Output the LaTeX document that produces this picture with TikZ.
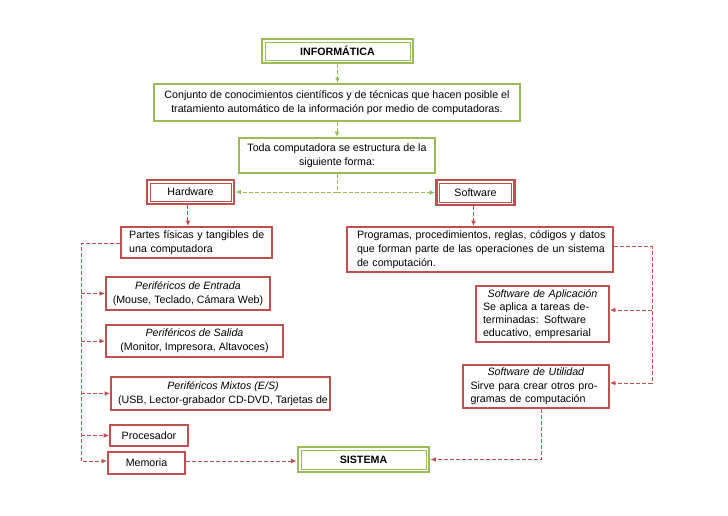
\documentclass[tikz,border=0pt]{standalone}
\usepackage{fontspec}
\setmainfont{Liberation Sans}
\usetikzlibrary{arrows.meta,calc}
\definecolor{gr}{HTML}{9BBB59}
\definecolor{rd}{HTML}{C0504D}
\newcommand{\jline}[1]{\makebox[\hsize][s]{#1}}
\begin{document}
\begin{tikzpicture}[x=0.75pt,y=-0.75pt,
  every node/.style={font=\fontsize{8}{10.5}\selectfont, inner sep=0pt},
  gbox/.style={draw=gr, line width=1.5pt, fill=white, align=center},
  rbox/.style={draw=rd, line width=1.5pt, fill=white, align=center},
  dblbox/.style={draw=#1, line width=2.2pt, fill=white, align=center,
    path picture={\draw[#1, line width=0.6pt]
      ([shift={(2.2pt,2.2pt)}]path picture bounding box.south west) rectangle
      ([shift={(-2.2pt,-2.2pt)}]path picture bounding box.north east);}},
  gcon/.style={draw=gr, line width=0.75pt, dash pattern=on 3pt off 1.5pt, -{Latex[length=4pt,width=3.6pt]}},
  rcon/.style={draw=rd, line width=0.75pt, dash pattern=on 3pt off 1.5pt, -{Latex[length=4pt,width=3.6pt]}}
]
\useasboundingbox (0,0) rectangle (728,515);

\node[dblbox=gr, minimum width=113.25pt, minimum height=18pt] (info) at (337.5,51) {\textbf{INFORMÁTICA}};
\node[gbox, minimum width=274.5pt, minimum height=27.75pt] (conj) at (337,102.5)
  {Conjunto de conocimientos científicos y de técnicas que hacen posible el\\tratamiento automático de la información por medio de computadoras.};
\node[gbox, minimum width=147pt, minimum height=26.25pt] (toda) at (337,155.5)
  {Toda computadora se estructura de la\\siguiente forma:};
\node[dblbox=rd, minimum width=65.25pt, minimum height=18pt] (hw) at (190.5,192) {Hardware};
\node[dblbox=rd, minimum width=58.5pt, minimum height=18.75pt] (sw) at (475.5,192.5) {Software};

\node[rbox, align=left, text width=107pt, inner xsep=3.1pt, minimum height=23.25pt] (partes) at (196.5,242.5)
  {\hspace*{3pt}Partes físicas y tangibles de\\\hspace*{3pt}una computadora};
\node[rbox, align=left, text width=184.5pt, inner xsep=7.5pt, minimum height=33.75pt] (prog) at (480,249.5)
  {\jline{Programas, procedimientos, reglas, códigos y datos}\\\jline{que forman parte de las operaciones de un sistema}\\de computación.};

\node[rbox, minimum width=123pt, minimum height=24.75pt] (ent) at (188,293.5)
  {\textit{Periféricos de Entrada}\\(Mouse, Teclado, Cámara Web)};
\node[rbox, minimum width=132.75pt, minimum height=24pt] (sal) at (194.5,341)
  {\textit{Periféricos de Salida}\\(Monitor, Impresora, Altavoces)};
\node[rbox, minimum width=164.25pt, minimum height=24.75pt] (mixbox) at (220.5,393.5) {};
\node[align=center] (mixtxt) at (223,393.5)
  {\textit{Periféricos Mixtos (E/S)}\\(USB, Lector-grabador CD-DVD, Tarjetas de};
\node[rbox, minimum width=58.5pt, minimum height=15.75pt] (proc) at (149,435.5) {Procesador};
\node[rbox, minimum width=57.75pt, minimum height=16.5pt] (mem) at (146.5,463) {Memoria};
\node[dblbox=gr, minimum width=98.25pt, minimum height=18.75pt] (sis) at (363.5,459.5) {\textbf{SISTEMA}};

\node[rbox, align=left, text width=89.25pt, inner xsep=5.25pt, minimum height=42pt,
      font=\fontsize{8}{9.9}\selectfont] (apl) at (542.5,314)
  {\makebox[\hsize][c]{\textit{Software de Aplicación}}\\\jline{Se aplica a tareas de-}\\\jline{terminadas: Software}\\educativo, empresarial};
\node[rbox, align=left, text width=98.25pt, inner xsep=5.6pt, minimum height=32.25pt,
      font=\fontsize{8}{10}\selectfont] (utl) at (536,386.5)
  {\makebox[\hsize][c]{\textit{Software de Utilidad}}\\\jline{Sirve para crear otros pro-}\\gramas de computación};

% anchor points
\coordinate (pw) at ([yshift=-1.1pt]partes.west);
\coordinate (mw) at ([yshift=1.5pt]mem.west);
\coordinate (me) at ([yshift=1.5pt]mem.east);
\coordinate (pe) at ([yshift=1.9pt]prog.east);
\coordinate (ae) at ([yshift=3pt]apl.east);
\coordinate (ue) at ([yshift=2.6pt]utl.east);
\coordinate (hs) at ([xshift=-1.9pt]hw.south);
\coordinate (ss) at ([xshift=-1.5pt]sw.south);
\coordinate (lb) at (81,0);
\coordinate (rb) at (652,0);
\coordinate (ub) at (541,0);

% green connectors
\draw[gcon] (info.south) -- (info.south |- conj.north);
\draw[gcon] (conj.south) -- (conj.south |- toda.north);
\draw[gcon] (toda.south) |- (hw.east);
\draw[gcon] (toda.south) |- (sw.west);

% red connectors
\draw[rcon] (hs) -- (hs |- partes.north);
\draw[rcon] (ss) -- (ss |- prog.north);

\draw[rcon] (pw) -| (lb |- mw) -- (mw);
\foreach \n in {ent,sal,mixbox,proc}
  \draw[rcon] (lb |- \n.west) -- (\n.west);

\draw[rcon] (pe) -| (rb |- ue) -- (ue);
\draw[rcon] (rb |- ae) -- (ae);

\draw[rcon] (ub |- utl.south) |- (sis.east);
\draw[rcon] (me) -- (me -| sis.west);
\end{tikzpicture}
\end{document}
